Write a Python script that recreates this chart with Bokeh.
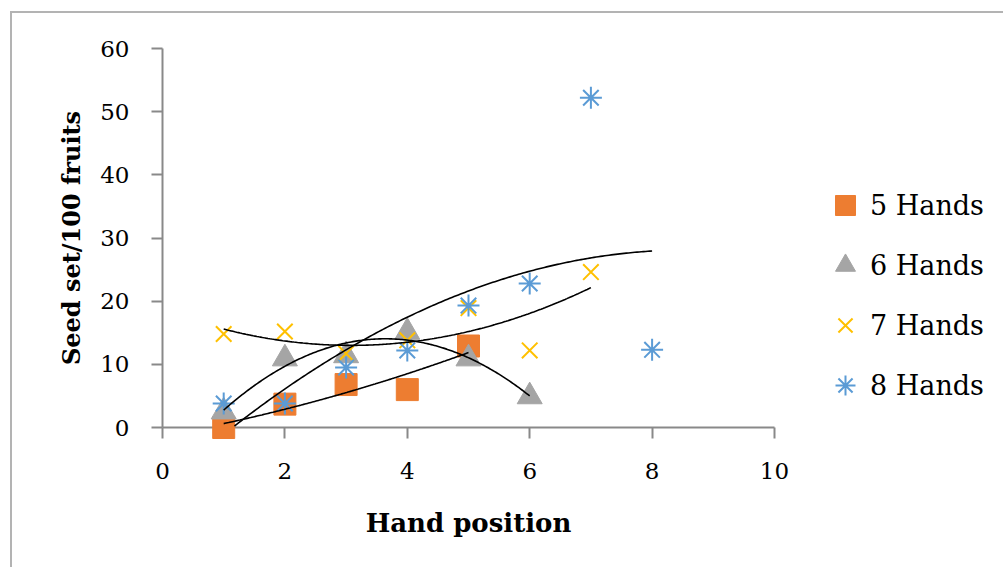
import numpy as np
from bokeh.plotting import figure
from bokeh.models import Range1d, FixedTicker, Legend, LegendItem
from bokeh.embed import file_html
from bokeh.resources import INLINE

# ---- data ----
x5 = [1, 2, 3, 4, 5]
y5 = [0.0, 3.7, 6.8, 6.0, 12.9]
x6 = [1, 2, 3, 4, 5, 6]
y6 = [2.5, 10.9, 11.4, 15.1, 10.9, 4.9]
x7 = [1, 2, 3, 4, 5, 6, 7]
y7 = [14.8, 15.2, 11.7, 13.8, 18.9, 12.2, 24.6]
x8 = [1, 2, 3, 4, 5, 6, 7, 8]
y8 = [3.8, 3.8, 9.5, 12.2, 19.3, 22.8, 52.2, 12.3]
series_names = ["5 Hands", "6 Hands", "7 Hands", "8 Hands"]
x_ticks = [0, 2, 4, 6, 8, 10]
y_ticks = [0, 10, 20, 30, 40, 50, 60]

FONT = "DejaVu Serif"
AXIS_COLOR = "#898989"

p = figure(
    width=983, height=554,
    frame_width=612, frame_height=379,
    min_border_left=150, min_border_top=35,
    min_border_right=221, min_border_bottom=140,
    x_range=Range1d(0, 10), y_range=Range1d(0, 60),
    output_backend="svg", toolbar_location=None,
    background_fill_color="white", border_fill_color="white",
)
p.styles = {
    "margin-left": "10px", "margin-top": "11px",
    "border-left": "2px solid #b3b3b3", "border-top": "2px solid #b3b3b3",
}
p.outline_line_color = None
p.xgrid.visible = False
p.ygrid.visible = False

for ax, ticks in ((p.xaxis[0], x_ticks), (p.yaxis[0], y_ticks)):
    ax.ticker = FixedTicker(ticks=ticks)
    ax.axis_line_color = AXIS_COLOR
    ax.axis_line_width = 2
    ax.major_tick_line_color = AXIS_COLOR
    ax.major_tick_line_width = 2
    ax.major_tick_in = 0
    ax.major_tick_out = 11
    ax.minor_tick_line_color = None
    ax.major_label_text_font = FONT
    ax.major_label_text_font_size = "23px"
    ax.major_label_text_color = "black"
    ax.axis_label_text_font = FONT
    ax.axis_label_text_font_style = "bold"
    ax.axis_label_text_color = "black"

p.xaxis.axis_label = "Hand position"
p.yaxis.axis_label = "Seed set/100 fruits"
p.xaxis.axis_label_text_font_size = "26px"
p.yaxis.axis_label_text_font_size = "24px"
p.xaxis.major_label_standoff = 24
p.xaxis.axis_label_standoff = 26
p.yaxis.major_label_standoff = 22
p.yaxis.axis_label_standoff = 11

# ---- markers ----
r5 = p.scatter(x5, y5, marker="square", size=22, fill_color="#ED7D31",
               line_color="#ED7D31", level="overlay")
r6 = p.scatter(x6, y6, marker="triangle", size=25, fill_color="#A5A5A5",
               line_color="#A5A5A5", level="overlay")
r7 = p.scatter(x7, y7, marker="x", size=22, line_color="#FFC000",
               line_width=2, level="overlay")
r8 = p.scatter(x8, y8, marker="asterisk", size=22, line_color="#5B9BD5",
               line_width=2, level="overlay")

# ---- polynomial (order 2) trendlines fitted to each series ----
for xs, ys in ((x5, y5), (x6, y6), (x7, y7), (x8, y8)):
    coef = np.polyfit(xs, ys, 2)
    xx = np.linspace(min(xs), max(xs), 200)
    yy = np.polyval(coef, xx)
    keep = yy >= 0
    p.line(xx[keep], yy[keep], line_color="black", line_width=1.6, level="overlay")

legend = Legend(
    items=[LegendItem(label=n, renderers=[r]) for n, r in zip(series_names, (r5, r6, r7, r8))],
    location=(46, 17),
    border_line_color=None, background_fill_alpha=0,
    padding=0, margin=0, spacing=10,
    glyph_width=50, glyph_height=50, label_height=50,
    label_standoff=0,
    label_text_font=FONT, label_text_font_size="27px", label_text_color="black",
)
p.add_layout(legend, "right")

open("out.html", "w").write(file_html(p, INLINE))
